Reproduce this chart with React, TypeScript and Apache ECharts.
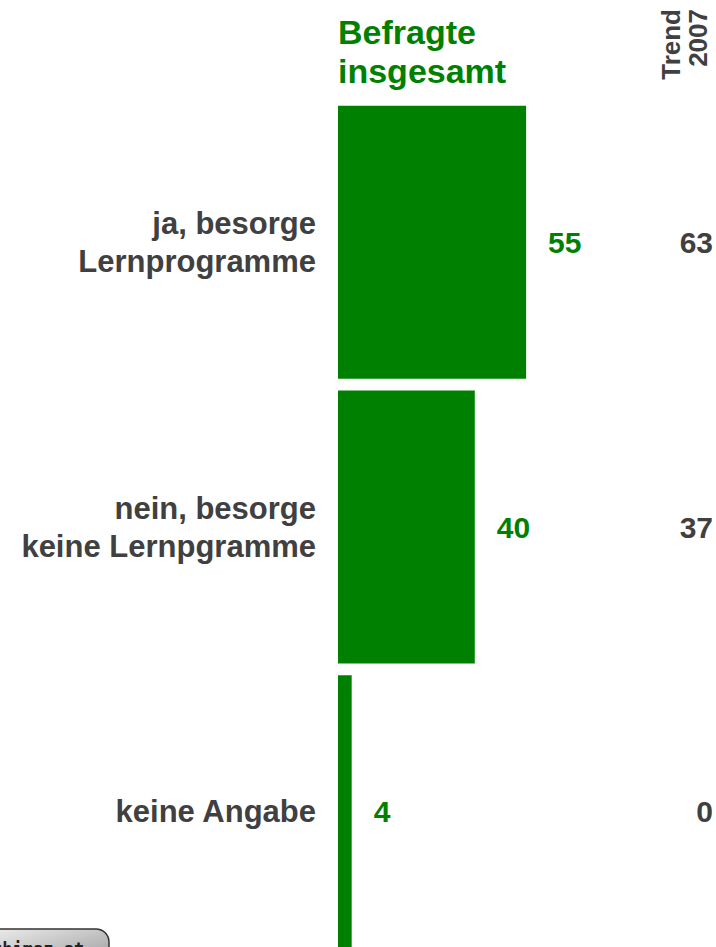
import React, { useEffect, useRef } from "react";
import * as echarts from "echarts";

const categories = ["ja, besorge\nLernprogramme", "nein, besorge\nkeine Lernpgramme", "keine Angabe"];
const values = [55, 40, 4];
const trend2007 = ["63", "37", "0"];
const headerMain = "Befragte\ninsgesamt";
const headerTrend = "Trend\n2007";
const badgeText = "thimaz.at";

const GREEN = "#008000";
const GREY = "#404040";
const FONT = "'Liberation Sans', Arial, sans-serif";

export default function App() {
  const ref = useRef<HTMLDivElement>(null);
  useEffect(() => {
    if (!ref.current) return;
    const chart = echarts.init(ref.current, undefined, { renderer: "svg" });
    chart.setOption({
      animation: false,
      backgroundColor: "#ffffff",
      grid: {
        left: 338,
        right: 36,
        top: 100,
        height: 854,
        containLabel: false,
        outerBoundsMode: "none",
      },
      xAxis: { type: "value", min: 0, max: 100, show: false },
      yAxis: [
        {
          type: "category",
          data: categories,
          inverse: true,
          axisLine: { show: false },
          axisTick: { show: false },
          axisLabel: {
            margin: 22,
            fontFamily: FONT,
            fontSize: 31,
            fontWeight: "bold",
            color: GREY,
            lineHeight: 38,
            align: "right",
            padding: [6, 0, 0, 0],
          },
        },
        {
          type: "category",
          data: trend2007,
          inverse: true,
          position: "right",
          axisLine: { show: false },
          axisTick: { show: false },
          axisLabel: {
            margin: 33,
            fontFamily: FONT,
            fontSize: 30,
            fontWeight: "bold",
            color: GREY,
            align: "right",
            padding: [2, 0, 0, 0],
          },
        },
      ],
      series: [
        {
          type: "bar",
          data: values,
          yAxisIndex: 0,
          barWidth: 273,
          itemStyle: { color: GREEN },
          label: {
            show: true,
            position: "right",
            distance: 22,
            fontFamily: FONT,
            fontSize: 30,
            fontWeight: "bold",
            color: GREEN,
            padding: [2, 0, 0, 0],
          },
        },
      ],
      graphic: [
        {
          type: "text",
          left: 338,
          top: 12,
          style: {
            text: headerMain,
            fontFamily: FONT,
            fontSize: 34,
            fontWeight: "bold",
            fill: GREEN,
            lineHeight: 39,
          },
        },
        {
          type: "text",
          x: 657,
          y: 9,
          rotation: Math.PI / 2,
          style: {
            text: headerTrend,
            fontFamily: FONT,
            fontSize: 26,
            fontWeight: "bold",
            fill: GREY,
            lineHeight: 27,
            align: "right",
            verticalAlign: "top",
          },
        },
        {
          type: "rect",
          shape: { x: -20, y: 929, width: 129, height: 36, r: 13 },
          style: {
            fill: new echarts.graphic.LinearGradient(0, 0, 1, 1, [
              { offset: 0, color: "#f0f0f0" },
              { offset: 1, color: "#9a9a9a" },
            ]),
            stroke: "#333333",
            lineWidth: 1.5,
          },
        },
        {
          type: "text",
          x: -8,
          y: 940,
          style: {
            text: badgeText,
            fontFamily: "'DejaVu Sans Mono', monospace",
            fontSize: 17,
            fontWeight: "bold",
            fill: "#222222",
            verticalAlign: "top",
          },
        },
      ],
    });
    return () => chart.dispose();
  }, []);
  return (
    <div
      ref={ref}
      style={{ position: "fixed", left: 0, top: 0, width: 716, height: 947 }}
    />
  );
}
